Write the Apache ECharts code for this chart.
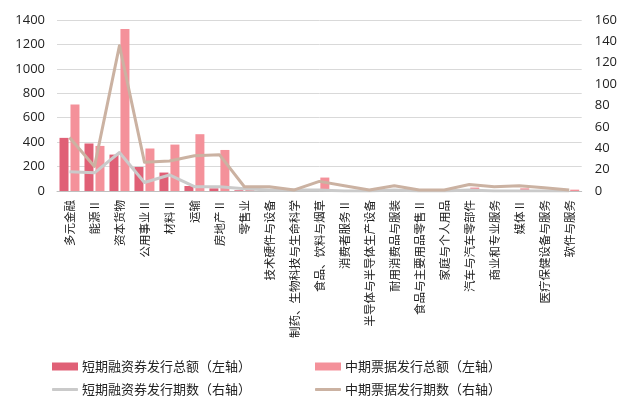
<!DOCTYPE html>
<html>
<head>
<meta charset="utf-8">
<style>
  html, body { margin: 0; padding: 0; background: #ffffff; }
  #chart { width: 620px; height: 398px; }
</style>
<script src="https://cdn.jsdelivr.net/npm/echarts@6/dist/echarts.min.js"></script>
</head>
<body>
<div id="chart"></div>
<script>
// Industry categories on the x axis
var categories = [
  '多元金融', '能源Ⅱ', '资本货物', '公用事业Ⅱ', '材料Ⅱ', '运输', '房地产Ⅱ', '零售业',
  '技术硬件与设备', '制药、生物科技与生命科学', '食品、饮料与烟草', '消费者服务Ⅱ',
  '半导体与半导体生产设备', '耐用消费品与服装', '食品与主要用品零售Ⅱ', '家庭与个人用品',
  '汽车与汽车零部件', '商业和专业服务', '媒体Ⅱ', '医疗保健设备与服务', '软件与服务'
];

// Issuance amounts (left axis)
var scpAmount = [435, 389, 298, 197, 151, 41, 22, 6, 3, 2, 2, 1, 0, 2, 0, 0, 1, 0, 1, 0, 0];
var mtnAmount = [709, 369, 1326, 348, 380, 465, 336, 8, 5, 6, 110, 3, 0, 4, 0, 2, 28, 5, 22, 6, 11];

// Issuance counts (right axis)
var scpCount = [18, 17, 36, 8, 15, 4, 4, 2, 1, 1, 1, 0, 0, 1, 0, 0, 1, 0, 0, 0, 0];
var mtnCount = [50, 23, 136, 27, 28, 33, 34, 4, 4, 1, 9, 5, 1, 5, 1, 1, 6, 4, 5, 3, 1];

// Axis ranges
var leftAxis = { min: 0, max: 1400, interval: 200 };
var rightAxis = { min: 0, max: 160, interval: 20 };

var names = [
  '短期融资券发行总额（左轴）',
  '中期票据发行总额（左轴）',
  '短期融资券发行期数（右轴）',
  '中期票据发行期数（右轴）'
];

var numFont = '"Open Sans", "Noto Sans", sans-serif';
var cjkFont = '"Noto Sans CJK SC", "Noto Sans", sans-serif';

// One legend entry per block so the four entries sit in a 2x2 layout
function legendAt(name, left, top, isLine) {
  return {
    data: [{ name: name, icon: isLine ? 'roundRect' : 'rect' }],
    left: left,
    top: top,
    itemWidth: 26,
    itemHeight: isLine ? 3 : 8,
    padding: 0,
    itemGap: 0,
    selectedMode: false,
    textStyle: { fontFamily: cjkFont, fontSize: 13, color: '#222222', padding: [0, 0, 0, -1] }
  };
}

function plain(v) { return String(v); }

var chart = echarts.init(document.getElementById('chart'), null, { renderer: 'canvas' });

chart.setOption({
  animation: false,
  backgroundColor: '#ffffff',
  grid: { left: 57, right: 37, top: 20, bottom: 207, containLabel: false },
  legend: [
    legendAt(names[0], 52, 360, false),
    legendAt(names[1], 315, 360, false),
    legendAt(names[2], 52, 383, true),
    legendAt(names[3], 315, 383, true)
  ],
  xAxis: {
    type: 'category',
    data: categories,
    boundaryGap: true,
    axisLine: { lineStyle: { color: '#bfbfbf', width: 1 } },
    axisTick: { show: false },
    axisLabel: {
      interval: 0,
      rotate: 90,
      margin: 9,
      fontFamily: cjkFont,
      fontSize: 11.5,
      color: '#222222'
    }
  },
  yAxis: [
    {
      type: 'value',
      min: leftAxis.min,
      max: leftAxis.max,
      interval: leftAxis.interval,
      axisLine: { show: false },
      axisTick: { show: false },
      splitLine: { lineStyle: { color: '#d9d9d9', width: 1 } },
      axisLabel: { margin: 12, formatter: plain, fontFamily: numFont, fontSize: 13, color: '#222222' }
    },
    {
      type: 'value',
      min: rightAxis.min,
      max: rightAxis.max,
      interval: rightAxis.interval,
      position: 'right',
      axisLine: { show: false },
      axisTick: { show: false },
      splitLine: { show: false },
      axisLabel: { margin: 13, formatter: plain, fontFamily: numFont, fontSize: 13, color: '#222222' }
    }
  ],
  series: [
    {
      name: names[0],
      type: 'bar',
      data: scpAmount,
      yAxisIndex: 0,
      barWidth: 9,
      barGap: '22%',
      itemStyle: { color: '#e06076' }
    },
    {
      name: names[1],
      type: 'bar',
      data: mtnAmount,
      yAxisIndex: 0,
      barWidth: 9,
      itemStyle: { color: '#f4919a' }
    },
    {
      name: names[2],
      type: 'line',
      data: scpCount,
      yAxisIndex: 1,
      symbol: 'none',
      lineStyle: { color: '#cacaca', width: 3, join: 'round' },
      itemStyle: { color: '#cacaca' },
      z: 3
    },
    {
      name: names[3],
      type: 'line',
      data: mtnCount,
      yAxisIndex: 1,
      symbol: 'none',
      lineStyle: { color: '#cbb2a2', width: 3, join: 'round' },
      itemStyle: { color: '#cbb2a2' },
      z: 4
    }
  ]
});
</script>
</body>
</html>
